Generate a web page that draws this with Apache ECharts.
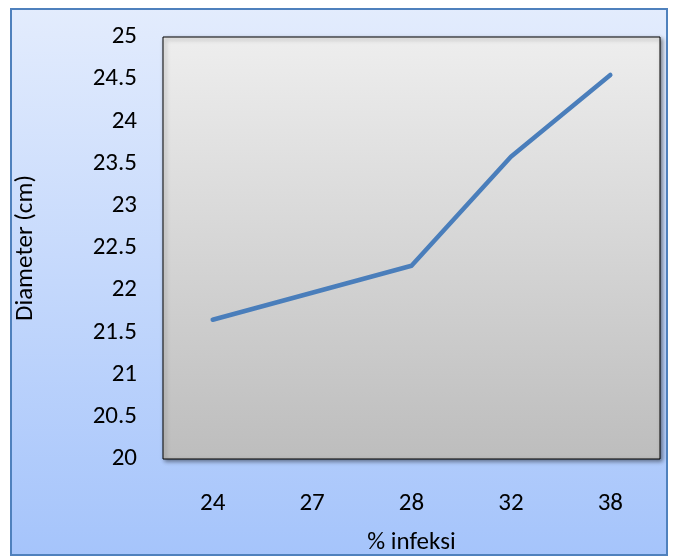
<!DOCTYPE html>
<html>
<head>
<meta charset="utf-8">
<script src="https://cdn.jsdelivr.net/npm/echarts@6/dist/echarts.min.js"></script>
<style>
  html, body { margin: 0; padding: 0; background: #ffffff; }
  #chart { width: 678px; height: 560px; }
</style>
</head>
<body>
<div id="chart"></div>
<script>
// Infection percentage categories and measured diameters
const categories = ['24', '27', '28', '32', '38'];
const diameter = [21.65, 21.97, 22.29, 23.58, 24.55];
const yMin = 20;
const yMax = 25;
const yStep = 0.5;

const chart = echarts.init(document.getElementById('chart'));
const fontFamily = 'Carlito, "Open Sans", "Liberation Sans", sans-serif';

chart.setOption({
  animation: false,
  graphic: [{
    type: 'rect',
    z: -10,
    shape: { x: 11, y: 9, width: 656, height: 546 },
    style: {
      fill: new echarts.graphic.LinearGradient(0, 0, 0, 1, [
        { offset: 0, color: '#e3ecfd' },
        { offset: 1, color: '#a5c4fb' }
      ]),
      stroke: '#4f81bd',
      lineWidth: 2
    }
  }],
  grid: {
    left: 163, top: 37, width: 497, height: 425,
    show: true,
    backgroundColor: new echarts.graphic.LinearGradient(0, 0, 0, 1, [
      { offset: 0, color: '#eeeeee' },
      { offset: 1, color: '#bdbdbd' }
    ]),
    borderColor: '#000000',
    borderWidth: 1,
    shadowColor: 'rgba(0,0,0,0.45)',
    shadowBlur: 4,
    shadowOffsetX: 2,
    shadowOffsetY: 2
  },
  xAxis: {
    type: 'category',
    data: categories,
    boundaryGap: true,
    name: '% infeksi',
    nameLocation: 'middle',
    nameGap: 71,
    nameTextStyle: { fontSize: 25, color: '#000', fontFamily },
    axisLine: { show: false },
    axisTick: { show: false },
    axisLabel: { fontSize: 25, color: '#000', margin: 32, fontFamily }
  },
  yAxis: {
    type: 'value',
    min: yMin, max: yMax, interval: yStep,
    name: 'Diameter (cm)',
    nameLocation: 'middle',
    nameGap: 125,
    nameRotate: 90,
    nameTextStyle: { fontSize: 25, color: '#000', fontFamily },
    axisLine: { show: false },
    axisTick: { show: false },
    splitLine: { show: false },
    axisLabel: { fontSize: 25, color: '#000', margin: 26, fontFamily }
  },
  series: [{
    type: 'line',
    data: diameter,
    symbol: 'none',
    lineStyle: { color: '#4a7ebb', width: 4.5, cap: 'round', join: 'round' }
  }]
});
</script>
</body>
</html>
